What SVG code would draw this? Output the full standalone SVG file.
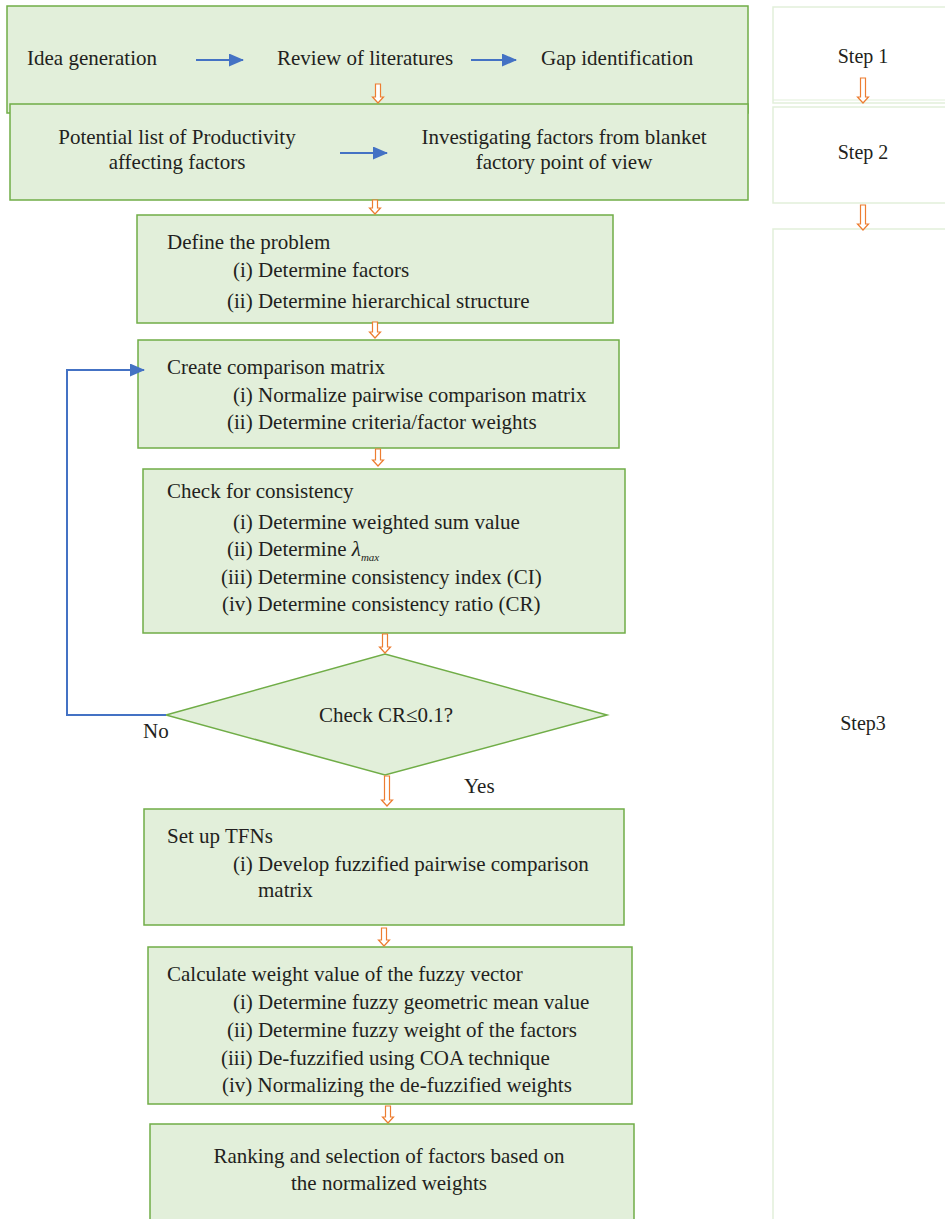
<svg xmlns="http://www.w3.org/2000/svg" width="945" height="1219" viewBox="0 0 945 1219">
<style>
.box{fill:#e2efda;stroke:#70ad47;stroke-width:1.5}
.step{fill:#ffffff;stroke:#e2efda;stroke-width:1.5}
text{font-family:"Liberation Serif","Times New Roman",serif;font-size:21px;fill:#231f20}
.c{text-anchor:middle}
.st{font-size:20px}
.oa{fill:#ffffff;stroke:#ed7d31;stroke-width:1.2}
.bl{stroke:#4472c4;stroke-width:2;fill:none}
</style>
<defs>
<marker id="bh" markerWidth="15" markerHeight="13" refX="14" refY="6.5" orient="auto" markerUnits="userSpaceOnUse">
<path d="M0,0 L15,6.5 L0,13 Z" fill="#4472c4"/>
</marker>
</defs>
<rect width="945" height="1219" fill="#ffffff"/>

<g id="step1"><rect class="step" x="773" y="7" width="180" height="96"/><line x1="773" y1="100" x2="945" y2="100" stroke="#e2efda" stroke-width="1.2"/><text class="c st" x="863" y="63">Step 1</text></g>
<g id="step2"><rect class="step" x="773" y="107" width="180" height="96"/><text class="c st" x="863" y="159">Step 2</text></g>
<g id="step3"><rect class="step" x="773" y="229" width="180" height="1000"/><text class="c st" x="863" y="730">Step3</text></g>

<g id="n1"><rect class="box" x="7" y="6" width="741" height="107"/>
<text x="27" y="65">Idea generation</text>
<text x="277" y="65">Review of literatures</text>
<text x="541" y="65">Gap identification</text></g>
<g id="n2"><rect class="box" x="10" y="104" width="738" height="96"/>
<text class="c" x="177" y="144">Potential list of Productivity</text>
<text class="c" x="177" y="169">affecting factors</text>
<text class="c" x="564" y="144">Investigating factors from blanket</text>
<text class="c" x="564" y="169">factory point of view</text></g>
<g id="n3"><rect class="box" x="137" y="215" width="476" height="108"/>
<text x="167" y="249">Define the problem</text>
<text x="233" y="277">(i) Determine factors</text>
<text x="227" y="308">(ii) Determine hierarchical structure</text></g>
<g id="n4"><rect class="box" x="138" y="340" width="481" height="108"/>
<text x="167" y="374">Create comparison matrix</text>
<text x="233" y="402">(i) Normalize pairwise comparison matrix</text>
<text x="227" y="429">(ii) Determine criteria/factor weights</text></g>
<g id="n5"><rect class="box" x="143" y="469" width="482" height="164"/>
<text x="167" y="498">Check for consistency</text>
<text x="233" y="529">(i) Determine weighted sum value</text>
<text x="227" y="556">(ii) Determine <tspan font-style="italic">λ</tspan><tspan font-style="italic" font-size="11" dy="5">max</tspan></text>
<text x="221" y="584">(iii) Determine consistency index (CI)</text>
<text x="222" y="611">(iv) Determine consistency ratio (CR)</text></g>
<g id="n6"><polygon class="box" points="166,715 385,654 607,715 385,775"/>
<text class="c" x="386" y="722">Check CR≤0.1?</text></g>
<g id="n7"><rect class="box" x="144" y="809" width="480" height="116"/>
<text x="167" y="843">Set up TFNs</text>
<text x="233" y="871">(i) Develop fuzzified pairwise comparison</text>
<text x="258" y="897">matrix</text></g>
<g id="n8"><rect class="box" x="148" y="947" width="484" height="157"/>
<text x="167" y="981">Calculate weight value of the fuzzy vector</text>
<text x="233" y="1009">(i) Determine fuzzy geometric mean value</text>
<text x="227" y="1037">(ii) Determine fuzzy weight of the factors</text>
<text x="221" y="1065">(iii) De-fuzzified using COA technique</text>
<text x="222" y="1092">(iv) Normalizing the de-fuzzified weights</text></g>
<g id="n9"><rect class="box" x="150" y="1124" width="484" height="110"/>
<text class="c" x="389" y="1163">Ranking and selection of factors based on</text>
<text class="c" x="389" y="1190">the normalized weights</text></g>

<g id="connectors">
<line class="bl" x1="196" y1="60" x2="243" y2="60" marker-end="url(#bh)"/>
<line class="bl" x1="471" y1="60" x2="516" y2="60" marker-end="url(#bh)"/>
<line class="bl" x1="340" y1="153" x2="387" y2="153" marker-end="url(#bh)"/>
<polyline class="bl" stroke-width="1.5" points="166,715 67,715 67,370 144,370" marker-end="url(#bh)"/>
<path class="oa" d="M375.5,84 H380.5 V97 H383.5 L378,103 L372.5,97 H375.5 Z"/>
<path class="oa" d="M372.5,200 H377.5 V208 H380.5 L375,214 L369.5,208 H372.5 Z"/>
<path class="oa" d="M372.5,322 H377.5 V332 H380.5 L375,338 L369.5,332 H372.5 Z"/>
<path class="oa" d="M375.5,449 H380.5 V460 H383.5 L378,466 L372.5,460 H375.5 Z"/>
<path class="oa" d="M382.5,634 H387.5 V647 H390.5 L385,653 L379.5,647 H382.5 Z"/>
<path class="oa" d="M384.5,776 H389.5 V800 H392.5 L387,806 L381.5,800 H384.5 Z"/>
<path class="oa" d="M381.5,928 H386.5 V940 H389.5 L384,946 L378.5,940 H381.5 Z"/>
<path class="oa" d="M385.5,1106 H390.5 V1117 H393.5 L388,1123 L382.5,1117 H385.5 Z"/>
<path class="oa" d="M860.5,78 H865.5 V97 H868.5 L863,103 L857.5,97 H860.5 Z"/>
<path class="oa" d="M860.5,205 H865.5 V224 H868.5 L863,230 L857.5,224 H860.5 Z"/>
<text x="143" y="738">No</text>
<text x="464" y="793">Yes</text>
</g>
</svg>
